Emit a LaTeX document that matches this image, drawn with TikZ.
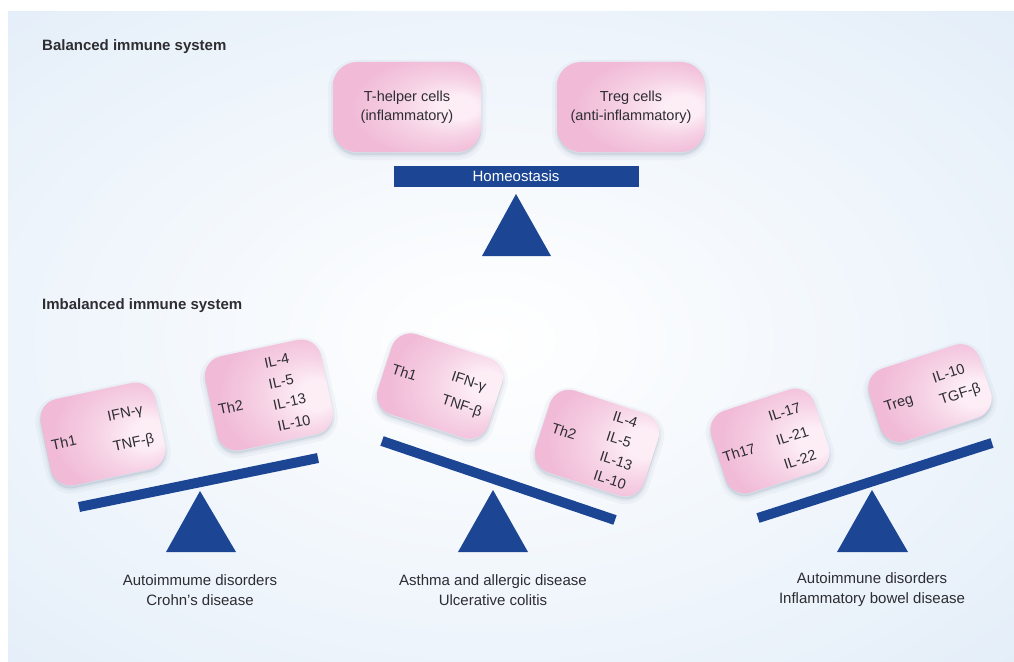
\documentclass[tikz,border=0pt]{standalone}
\usepackage{fontspec}
\setmainfont{Liberation Sans}
\definecolor{bg}{RGB}{218,232,246}
\definecolor{navy}{RGB}{28,70,148}
\definecolor{pinkout}{RGB}{241,186,214}
\definecolor{pinkmid}{RGB}{246,210,229}
\definecolor{pinkin}{RGB}{253,238,246}
\definecolor{txt}{RGB}{45,45,50}
\definecolor{shd}{RGB}{90,110,140}
\pgfdeclareradialshading{cellshade}{\pgfpoint{20bp}{0bp}}{color(0bp)=(pinkin); color(6bp)=(pinkin); color(16bp)=(pinkmid); color(28bp)=(pinkout); color(50bp)=(pinkout)}
\begin{document}
\begin{tikzpicture}[x=1pt,y=-1pt,
  cell/.style={rectangle, rounded corners=20pt, shade, shading=cellshade,
    preaction={fill=shd, fill opacity=0.07, draw=shd, draw opacity=0.05, line width=10pt, transform canvas={yshift=-3pt}},
    preaction={fill=shd, fill opacity=0.07, draw=shd, draw opacity=0.07, line width=4pt, transform canvas={yshift=-3pt}}},
  lbl/.style={text=txt, font=\fontsize{14.5}{19}\selectfont, inner sep=0pt},
  lw/.style={lbl, anchor=west},
  head/.style={text=txt, font=\bfseries\fontsize{15}{18}\selectfont, anchor=west, inner sep=0pt},
  capt/.style={text=txt, font=\fontsize{15}{20}\selectfont, align=center, inner sep=0pt},
  beam/.style={draw=navy, line width=10pt},
  pivot/.style={fill=navy},
]
\useasboundingbox (0,0) rectangle (1014,661);
\fill[white] (0,0) rectangle (1014,661);
\begin{scope}
  \clip (8,12) rectangle (1014,661);
  \fill[bg] (8,12) rectangle (1014,661);
  \shade[inner color=white, outer color=bg] (490,340) ellipse [x radius=1000pt, y radius=640pt];
\end{scope}

\node[head] (h1) at (42,47) {Balanced immune system};
\node[head] (h2) at (42,306) {Imbalanced immune system};

% balanced
\node[cell, rounded corners=24pt, minimum width=148pt, minimum height=90pt] (th) at (407,107) {};
\node[lbl, align=center] (tht) at (th) {T-helper cells\\(inflammatory)};
\node[cell, rounded corners=24pt, minimum width=148pt, minimum height=90pt] (tr) at (631,107) {};
\node[lbl, align=center] (trt) at (tr) {Treg cells\\(anti-inflammatory)};
\node[fill=navy, minimum width=245pt, minimum height=21pt, inner sep=0pt, text=white,
  font=\fontsize{15}{18}\selectfont] (homeo) at (516,176) {Homeostasis};
\fill[pivot] (516,194) -- (551,256) -- (482,256) -- cycle;

% left scale
\coordinate (l1) at (79,507); \coordinate (l2) at (318,458);
\draw[beam] (l1) -- (l2);
\fill[pivot] (200,491) -- (236,552) -- (166,552) -- cycle;
\begin{scope}[shift={(103,434)}, rotate=12, transform shape]
  \node[cell, minimum width=117pt, minimum height=88pt] (a1) at (0,0) {};
  \node[lbl] (a1n) at (-40,0) {Th1};
  \node[lbl] (a1a) at (26,-15) {IFN-γ};
  \node[lbl] (a1b) at (28,16) {TNF-β};
\end{scope}
\begin{scope}[shift={(269,395)}, rotate=12, transform shape]
  \node[cell, minimum width=118pt, minimum height=96pt] (a2) at (0,0) {};
  \node[lbl] (a2n) at (-40,4) {Th2};
  \node[lw] (a2a) at (2,-32) {IL-4};
  \node[lw] (a2b) at (2,-10.5) {IL-5};
  \node[lw] (a2c) at (2,11) {IL-13};
  \node[lw] (a2d) at (2,32.5) {IL-10};
\end{scope}
\node[capt] (c1) at (200,590) {Autoimmume disorders\\Crohn's disease};

% middle scale
\coordinate (m1) at (382,441); \coordinate (m2) at (615,520);
\draw[beam] (m1) -- (m2);
\fill[pivot] (493,490) -- (528,552) -- (458,552) -- cycle;
\begin{scope}[shift={(440,386)}, rotate=-18, transform shape]
  \node[cell, minimum width=116pt, minimum height=84pt] (b1) at (0,0) {};
  \node[lbl] (b1n) at (-38,-2) {Th1};
  \node[lbl] (b1a) at (26,-12) {IFN-γ};
  \node[lbl] (b1b) at (27,13) {TNF-β};
\end{scope}
\begin{scope}[shift={(597,443)}, rotate=-18, transform shape]
  \node[cell, minimum width=114pt, minimum height=86pt] (b2) at (0,0) {};
  \node[lbl] (b2n) at (-35,-1) {Th2};
  \node[lw] (b2a) at (7,-31) {IL-4};
  \node[lw] (b2b) at (7,-10) {IL-5};
  \node[lw] (b2c) at (7,11) {IL-13};
  \node[lw] (b2d) at (7,31) {IL-10};
\end{scope}
\node[capt] (c2) at (493,590) {Asthma and allergic disease\\Ulcerative colitis};

% right scale
\coordinate (r1) at (758,518); \coordinate (r2) at (992,443);
\draw[beam] (r1) -- (r2);
\fill[pivot] (872,490) -- (908,552) -- (837,552) -- cycle;
\begin{scope}[shift={(770,441)}, rotate=18, transform shape]
  \node[cell, minimum width=108pt, minimum height=86pt] (d1) at (0,0) {};
  \node[lbl] (d1n) at (-33,1.5) {Th17};
  \node[lw] (d1a) at (6,-23) {IL-17};
  \node[lw] (d1b) at (6,2) {IL-21};
  \node[lw] (d1c) at (6,27) {IL-22};
\end{scope}
\begin{scope}[shift={(930,393)}, rotate=18, transform shape]
  \node[cell, minimum width=116pt, minimum height=76pt] (d2) at (0,0) {};
  \node[lbl] (d2n) at (-33,1) {Treg};
  \node[lw] (d2a) at (7,-13) {IL-10};
  \node[lw] (d2b) at (7,11) {TGF-β};
\end{scope}
\node[capt] (c3) at (872,590) {Autoimmune disorders\\Inflammatory bowel disease};
\end{tikzpicture}
\end{document}
